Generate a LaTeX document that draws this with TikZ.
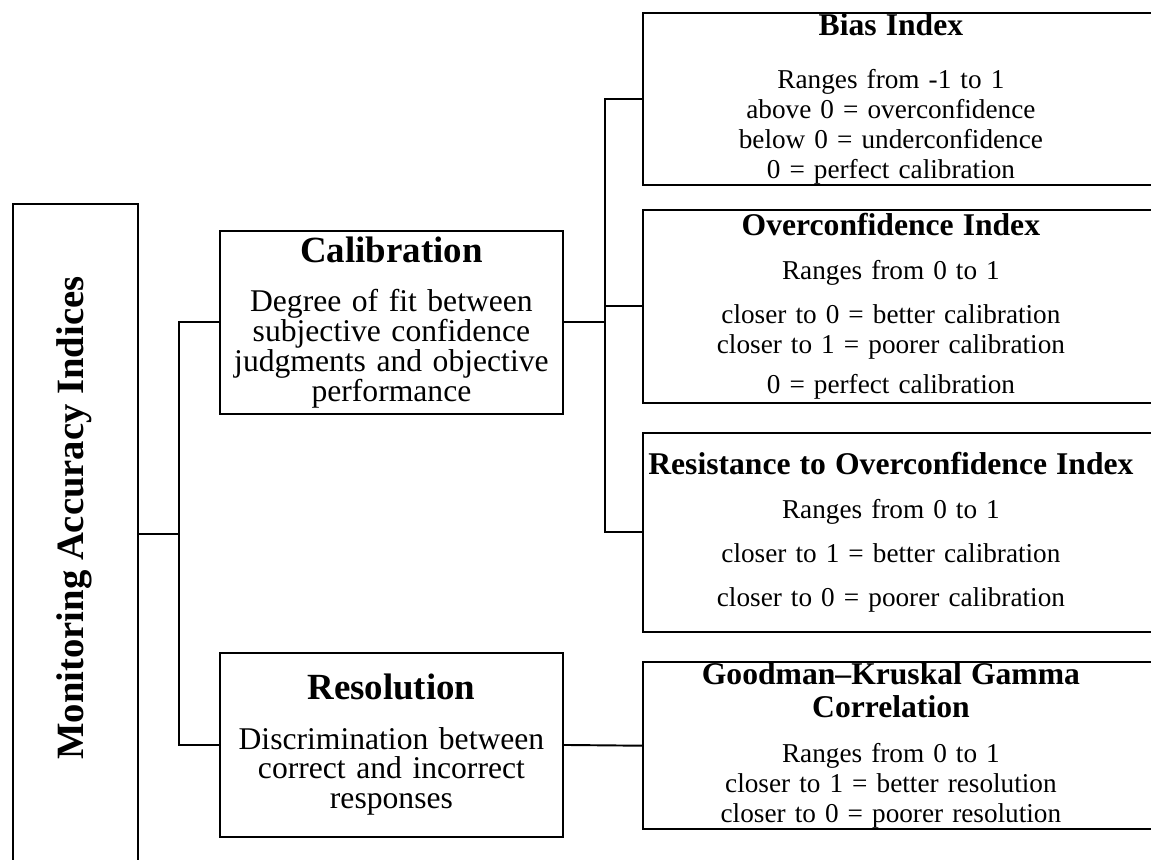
\documentclass[tikz,border=0pt]{standalone}
\usepackage{fontspec}
\setmainfont{Liberation Serif}
\usetikzlibrary{calc}
\newcommand{\midhead}[1]{{\fontsize{21}{21}\selectfont\bfseries #1}}
\newcommand{\idxhead}[1]{{\fontsize{18}{18}\selectfont\bfseries #1}}

\begin{document}
\begin{tikzpicture}[x=0.02cm,y=-0.02cm,line width=1.1pt,
  mid/.style={draw,anchor=north west,minimum width=6.86cm,text width=6.6cm,
    align=center,inner sep=0pt,font=\fontsize{18}{17}\selectfont},
  idx/.style={anchor=north west,text width=9.88cm,align=center,inner sep=0pt,
    font=\fontsize{15.5}{17}\selectfont}]
  \useasboundingbox (0,0) rectangle (1151,859);
  \clip (0,0) rectangle (1151,859);
  % left box
  \node[draw,anchor=north west,minimum width=2.5cm,minimum height=14cm,
    inner sep=0pt] (mai) at (12,203) {};
  \node[rotate=90,font=\fontsize{22}{22}\selectfont\bfseries] (maitxt)
    at (74.5,518) {Monitoring Accuracy Indices};
  % middle boxes
  \node[mid,minimum height=3.66cm] (cal) at (219,230) {%
    \midhead{Calibration}\\[11pt]
    Degree of fit between\\ subjective confidence\\
    judgments and objective\\ performance};
  \node[mid,minimum height=3.68cm] (res) at (219,652) {%
    \midhead{Resolution}\\[11pt]
    Discrimination between\\ correct and incorrect\\ responses};
  % index boxes
  \node[idx,minimum height=3.32cm] (bias) at (643,13) {%
    \idxhead{Bias Index}\\[13pt]
    Ranges from -1 to 1\\ above 0 = overconfidence\\
    below 0 = underconfidence\\ 0 = perfect calibration};
  \node[idx,minimum height=3.82cm] (over) at (643,210) {%
    \idxhead{Overconfidence Index}\\[8pt]
    Ranges from 0 to 1\\[8pt]
    closer to 0 = better calibration\\ closer to 1 = poorer calibration\\[6pt]
    0 = perfect calibration};
  \node[idx,minimum height=3.94cm] (resist) at (643,433) {%
    \idxhead{Resistance to Overconfidence Index}\\[8pt]
    Ranges from 0 to 1\\[8pt]
    closer to 1 = better calibration\\[8pt]
    closer to 0 = poorer calibration};
  \node[idx,minimum height=3.28cm] (gamma) at (643,662) {%
    \idxhead{Goodman--Kruskal Gamma}\\[1.8pt] \idxhead{Correlation}\\[8.6pt]
    Ranges from 0 to 1\\ closer to 1 = better resolution\\
    closer to 0 = poorer resolution};
  \foreach \n in {bias,over,resist,gamma}
    \draw (\n.north west) rectangle ([xshift=2cm]\n.south east);
  % connectors
  \coordinate (t1) at ($(cal.west)!.5!(res.west)+(-40,0)$);
  \draw (cal.west) -| (t1) |- (res.west);
  \draw (mai.east |- t1) -- (t1);
  \coordinate (t2) at ($(cal.east)+(41,0)$);
  \draw (cal.east) -- (t2);
  \draw (bias.west) -| (t2) |- (resist.west);
  \draw (over.west) -- (over.west -| t2);
  \draw (res.east) -- (gamma.west);
\end{tikzpicture}
\end{document}
